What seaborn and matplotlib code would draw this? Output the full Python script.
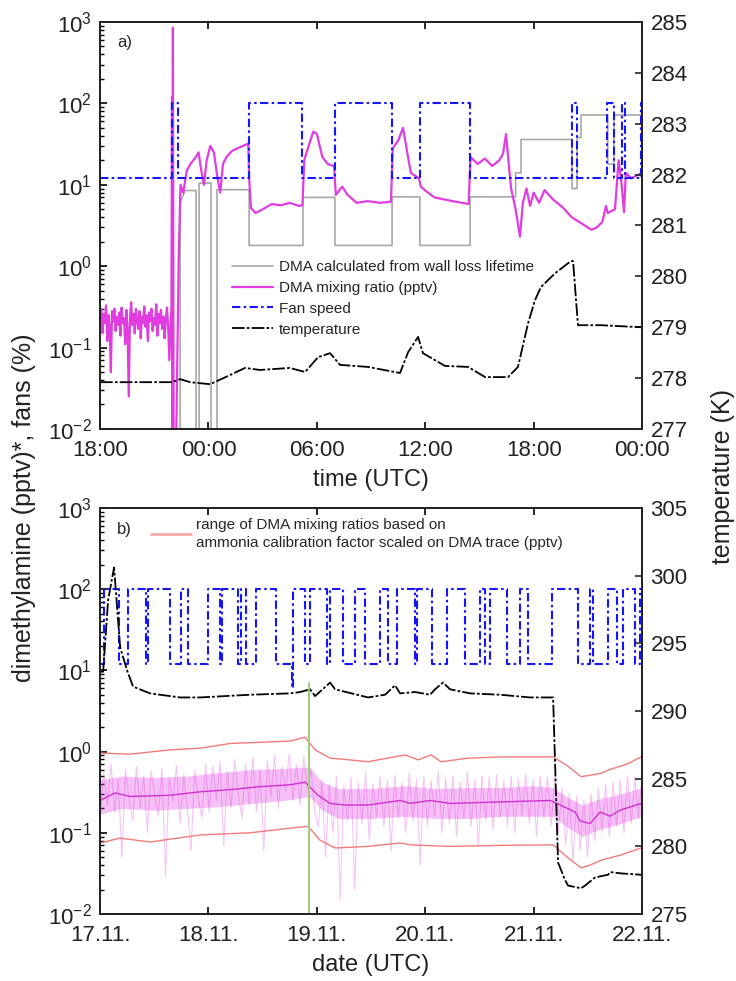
import numpy as np
import matplotlib
matplotlib.use('Agg')
import matplotlib.pyplot as plt
import seaborn as sns
from matplotlib.lines import Line2D
from matplotlib.ticker import LogLocator, NullFormatter, FuncFormatter

# ---------------- panel a (hours since 18:00) ----------------
a_ticks = [0, 6, 12, 18, 24, 30]
a_ticklabels = ['18:00', '00:00', '06:00', '12:00', '18:00', '00:00']

fan_a_t = [0, 4.0, 4.3, 8.25, 11.2, 13.0, 16.15, 17.7, 20.5, 26.1, 26.4, 28.05, 28.45, 28.9, 29.05, 29.95, 30]
fan_a_v = [12, 100, 12, 100, 12, 100, 12, 100, 12, 100, 12, 100, 12, 100, 12, 100, 100]

gray_t = [4.43, 4.43, 4.7, 5.31, 5.31, 5.48, 5.48, 6.14, 6.14, 6.47,
          6.47, 8.25, 8.25, 11.23, 11.23, 13.0, 13.0, 16.16, 16.16, 17.7,
          17.7, 20.48, 20.48, 23.0, 23.0, 23.3, 23.3, 26.12, 26.12, 26.4,
          26.4, 26.62, 26.62, 28.1, 28.1, 28.45, 28.45, 30]
gray_v = [0.001, 6, 8.5, 8.5, 0.001, 0.001, 10.5, 10.5, 0.001, 0.001,
          8.7, 8.7, 1.8, 1.8, 7.0, 7.0, 1.8, 1.8, 7.1, 7.1,
          1.8, 1.8, 7.1, 7.1, 14, 14, 36, 36, 9, 9,
          38, 38, 72, 72, 18, 18, 72, 72]

# noisy background before the injection (0 - 3.9 h)
mag_a_noise = [0.22, 0.30, 0.15, 0.26, 0.20, 0.33, 0.12, 0.25, 0.18, 0.05,
               0.28, 0.21, 0.30, 0.16, 0.24, 0.19, 0.27, 0.14, 0.31, 0.20,
               0.23, 0.11, 0.29, 0.17, 0.025, 0.22, 0.36, 0.19, 0.26, 0.15,
               0.30, 0.21, 0.17, 0.28, 0.13, 0.24, 0.20, 0.32, 0.18, 0.25,
               0.12, 0.27, 0.21, 0.30, 0.16, 0.23, 0.19, 0.34, 0.14, 0.26,
               0.20, 0.29, 0.17, 0.24, 0.13, 0.22, 0.31, 0.18, 0.07, 0.20]
mag_a_t = [3.95, 3.98, 4.0, 4.03, 4.07, 4.2, 4.35, 4.45, 4.6, 4.8,
           5.0, 5.3, 5.45, 5.6, 5.75, 5.9, 6.1, 6.3, 6.5, 6.65,
           6.8, 7.0, 7.3, 7.6, 7.9, 8.2, 8.25, 8.35, 8.6, 9.0,
           9.5, 10.0, 10.5, 11.0, 11.2, 11.3, 11.5, 11.8, 12.0, 12.3,
           12.6, 12.95, 13.05, 13.4, 13.7, 14.2, 14.8, 15.5, 16.1, 16.2,
           16.5, 16.77, 17.0, 17.2, 17.65, 17.75, 18.0, 18.5, 19.5, 20.4,
           20.5, 20.9, 21.3, 21.7, 22.1, 22.3, 22.47, 22.6, 22.75, 23.0,
           23.24, 23.4, 23.6, 23.8, 24.0, 24.3, 24.6, 25.1, 25.6, 26.1,
           26.6, 27.2, 27.5, 27.8, 28.0, 28.1, 28.5, 28.7, 28.85, 29.0,
           29.1, 29.4, 29.7, 30.0]
mag_a_v = [0.3, 120, 0.005, 850, 0.005, 0.005, 1.2, 10, 8, 15,
           18, 22, 25, 15, 10, 20, 30, 25, 12, 8,
           18, 22, 26, 28, 30, 32, 12, 5.2, 4.5, 5.0,
           5.8, 5.6, 6.0, 5.5, 5.6, 20, 28, 45, 42, 22,
           18, 17, 7.5, 9.5, 7.5, 6.0, 6.3, 6.0, 6.2, 28,
           35, 50, 25, 14, 12, 9.5, 8.5, 7.0, 6.3, 5.8,
           22, 18, 21, 17, 20, 24, 42, 20, 9, 5,
           2.3, 6, 9, 5.5, 8, 6, 8.6, 6.5, 5.3, 4.0,
           3.4, 2.8, 3.0, 3.5, 5.5, 4.5, 5.0, 20, 11, 4.6,
           14, 12, 13, 14]

temp_a_t = [0, 3.98, 4.43, 4.98, 6.09, 7.19, 8.02, 8.85, 10.5, 11.35,
            12.06, 12.73, 13.28, 14.83, 16.6, 17.05, 17.6, 17.87, 19.09, 20.37,
            21.31, 22.58, 23.13, 23.69, 24.07, 24.4, 25.18, 26.06, 26.18, 26.45,
            27.73, 29.94]
temp_a_v = [277.92, 277.92, 277.98, 277.92, 277.88, 278.06, 278.20, 278.16, 278.20, 278.12,
            278.41, 278.49, 278.26, 278.22, 278.10, 278.51, 278.81, 278.49, 278.24, 278.22,
            278.02, 278.02, 278.22, 279.08, 279.53, 279.79, 280.06, 280.30, 280.30, 279.04,
            279.04, 279.00]

# ---------------- panel b (days since 17.11.) ----------------
b_ticks = [0, 1, 2, 3, 4, 5]
b_ticklabels = ['17.11.', '18.11.', '19.11.', '20.11.', '21.11.', '22.11.']

fan_b_t = [0, 0.037, 0.175, 0.258, 0.424, 0.443, 0.646, 0.747, 0.812, 0.996,
           1.107, 1.125, 1.273, 1.301, 1.347, 1.439, 1.624, 1.772, 1.780, 1.891,
           1.937, 2.094, 2.122, 2.242, 2.352, 2.445, 2.583, 2.657, 2.740, 2.906,
           2.924, 3.063, 3.201, 3.367, 3.506, 3.552, 3.598, 3.755, 3.875, 3.948,
           4.170, 4.410, 4.520, 4.548, 4.686, 4.769, 4.825, 4.935, 4.982, 5.0]
fan_b_v = [12, 100, 12, 100, 12, 100, 12, 100, 12, 100,
           12, 100, 12, 100, 12, 100, 12, 6, 100, 12,
           100, 12, 100, 12, 100, 12, 100, 12, 100, 12,
           100, 12, 100, 12, 100, 12, 100, 12, 100, 12,
           100, 12, 100, 12, 100, 12, 100, 12, 100, 100]

ru_t = [0, 0.277, 0.646, 0.923, 1.199, 1.476, 1.753, 1.891, 1.983, 2.122,
        2.306, 2.472, 2.814, 2.934, 3.053, 3.146, 3.395, 3.699, 4.133, 4.179,
        4.317, 4.437, 4.622, 4.686, 4.871, 4.991]
ru_v = [0.96, 0.93, 1.05, 1.1, 1.26, 1.3, 1.35, 1.5, 1.05, 0.83,
        0.79, 0.75, 0.91, 0.79, 0.91, 0.75, 0.83, 0.86, 0.86, 0.86,
        0.66, 0.49, 0.54, 0.59, 0.71, 0.86]
rl_t = [0, 0.185, 0.461, 0.923, 1.384, 1.753, 1.919, 2.029, 2.168, 2.472,
        2.768, 2.860, 3.229, 3.690, 4.179, 4.317, 4.437, 4.520, 4.622, 4.797, 4.991]
rl_v = [0.075, 0.086, 0.077, 0.094, 0.10, 0.114, 0.12, 0.081, 0.065, 0.068,
        0.075, 0.071, 0.068, 0.070, 0.071, 0.049, 0.037, 0.040, 0.046, 0.053, 0.065]

# smoothed DMA trace
mc_t = [0, 0.138, 0.277, 0.646, 0.923, 1.199, 1.476, 1.753, 1.891, 2.011,
        2.122, 2.260, 2.472, 2.768, 2.860, 3.044, 3.229, 3.690, 4.151, 4.244,
        4.382, 4.428, 4.520, 4.613, 4.705, 4.797, 4.991]
mc_v = [0.25, 0.31, 0.28, 0.29, 0.32, 0.34, 0.37, 0.39, 0.42, 0.29,
        0.23, 0.22, 0.22, 0.25, 0.23, 0.25, 0.23, 0.24, 0.25, 0.22,
        0.18, 0.14, 0.13, 0.18, 0.16, 0.19, 0.23]

# raw DMA trace (read as 150 evenly spaced samples)
mraw_v = [0.15, 0.55, 0.22, 0.7, 0.18, 0.45, 0.05, 0.6, 0.25, 0.14,
          0.65, 0.2, 0.5, 0.1, 0.58, 0.3, 0.16, 0.62, 0.03, 0.48,
          0.24, 0.68, 0.13, 0.52, 0.2, 0.06, 0.6, 0.27, 0.15, 0.7,
          0.18, 0.66, 0.25, 0.75, 0.07, 0.58, 0.2, 0.8, 0.3, 0.15,
          0.7, 0.22, 0.85, 0.18, 0.6, 0.06, 0.78, 0.28, 0.9, 0.2,
          0.65, 0.32, 0.95, 0.25, 0.7, 0.22, 0.88, 0.35, 0.6, 0.18,
          0.12, 0.45, 0.05, 0.4, 0.1, 0.5, 0.015, 0.38, 0.14, 0.48,
          0.02, 0.42, 0.13, 0.55, 0.08, 0.4, 0.16, 0.5, 0.12, 0.45,
          0.06, 0.52, 0.15, 0.42, 0.1, 0.55, 0.14, 0.46, 0.04, 0.5,
          0.12, 0.44, 0.16, 0.58, 0.1, 0.47, 0.13, 0.5, 0.09, 0.43,
          0.15, 0.55, 0.12, 0.45, 0.07, 0.5, 0.14, 0.48, 0.11, 0.52,
          0.15, 0.44, 0.12, 0.5, 0.1, 0.46, 0.16, 0.53, 0.13, 0.45,
          0.09, 0.5, 0.15, 0.48, 0.12, 0.5, 0.1, 0.35, 0.07, 0.3,
          0.045, 0.28, 0.06, 0.25, 0.05, 0.3, 0.08, 0.35, 0.1, 0.4,
          0.09, 0.42, 0.12, 0.45, 0.1, 0.5, 0.13, 0.48, 0.15, 0.55]

haze_t = [0, 0.2, 0.5, 0.8, 1.1, 1.4, 1.7, 1.93, 2.05, 2.2, 2.5,
          2.8, 3.1, 3.4, 3.7, 4.0, 4.18, 4.3, 4.45, 4.6, 4.8, 5.0]
haze_in_hi = [0.45, 0.5, 0.48, 0.5, 0.55, 0.6, 0.62, 0.65, 0.42, 0.35, 0.35,
              0.38, 0.35, 0.36, 0.36, 0.38, 0.36, 0.28, 0.22, 0.26, 0.3, 0.36]
haze_in_lo = [0.17, 0.2, 0.19, 0.2, 0.21, 0.23, 0.25, 0.28, 0.19, 0.15, 0.15,
              0.16, 0.15, 0.15, 0.16, 0.16, 0.16, 0.12, 0.09, 0.11, 0.13, 0.16]

green_t = [1.93, 1.93]
green_v = [0.005, 7]

temp_b_t = [0, 0.028, 0.074, 0.129, 0.185, 0.249, 0.304, 0.461, 0.738, 0.923,
            1.384, 1.753, 1.845, 1.937, 1.983, 2.122, 2.168, 2.472, 2.629, 2.721,
            2.768, 2.906, 3.044, 3.090, 3.164, 3.229, 3.413, 3.690, 3.967, 4.179,
            4.225, 4.290, 4.317, 4.437, 4.474, 4.566, 4.686, 4.705, 4.806, 4.991]
temp_b_v = [292.9, 292.9, 298.2, 300.6, 294.7, 293.0, 291.8, 291.3, 291.0, 291.0,
            291.2, 291.3, 291.4, 291.6, 291.1, 292.1, 291.6, 291.0, 291.2, 291.9,
            291.3, 291.4, 291.2, 291.6, 292.1, 291.6, 291.3, 291.2, 291.0, 291.0,
            278.8, 277.5, 277.1, 276.9, 277.1, 277.7, 277.9, 278.1, 278.0, 277.9]

sns.set_theme(style='ticks')
plt.rcParams['font.family'] = ['Liberation Sans', 'DejaVu Sans']
plt.rcParams['mathtext.fontset'] = 'custom'
plt.rcParams['mathtext.rm'] = 'Liberation Sans'
plt.rcParams['mathtext.default'] = 'regular'

MAG = '#e03ce0'
BLUE = '#1414ff'
GRAY = '#a8a8a8'
RED = '#f27a7a'
TXT = '#222222'
dashdot = (0, (4, 1.6, 1.2, 1.6))
tdash = (0, (7, 1.2, 1.5, 1.2))

fig = plt.figure(figsize=(7.36, 9.81), dpi=100)
ax_a = fig.add_axes([0.136, 0.5627, 0.7364, 0.4149])
ax_b = fig.add_axes([0.136, 0.0683, 0.7364, 0.4139])


def style_left(ax):
    ax.set_yscale('log')
    ax.set_ylim(1e-2, 1e3)
    ax.yaxis.set_major_locator(LogLocator(base=10, numticks=10))
    ax.yaxis.set_minor_locator(LogLocator(base=10, subs=np.arange(2, 10), numticks=10))
    ax.yaxis.set_minor_formatter(NullFormatter())
    ax.yaxis.set_major_formatter(FuncFormatter(lambda v, p: r'$10^{%d}$' % round(np.log10(v))))
    ax.tick_params(axis='both', which='both', direction='in', top=True, right=False,
                   labelsize=16, colors='black', labelcolor=TXT)
    ax.tick_params(which='major', length=5, width=1.2)
    ax.tick_params(which='minor', length=3, width=1)
    ax.tick_params(axis='x', pad=8)
    ax.tick_params(axis='y', pad=6)
    ax.set_ylabel('')
    for s in ax.spines.values():
        s.set_linewidth(1.3)
        s.set_color('black')


def style_right(ax):
    ax.set_ylabel('')
    ax.tick_params(axis='y', direction='in', length=5, width=1.2, labelsize=16,
                   labelcolor=TXT, pad=6)


# ---- panel a ----
sns.lineplot(x=gray_t, y=gray_v, ax=ax_a, sort=False, estimator=None, color=GRAY, lw=1.2)
h_gray = ax_a.lines[-1]
sns.lineplot(x=list(np.linspace(0, 3.9, len(mag_a_noise))) + mag_a_t, y=mag_a_noise + mag_a_v,
             ax=ax_a, sort=False, estimator=None, color=MAG, lw=1.6)
h_mag = ax_a.lines[-1]
sns.lineplot(x=fan_a_t, y=fan_a_v, ax=ax_a, sort=False, estimator=None, color=BLUE, lw=1.5,
             drawstyle='steps-post', linestyle=dashdot)
h_fan = ax_a.lines[-1]
style_left(ax_a)
ax_a.set_xlim(0, 30)
ax_a.set_xticks(a_ticks)
ax_a.set_xticklabels(a_ticklabels)
ax_a.set_xlabel('time (UTC)', fontsize=17, labelpad=6, color=TXT)

ax_a2 = ax_a.twinx()
sns.lineplot(x=temp_a_t, y=temp_a_v, ax=ax_a2, sort=False, estimator=None, color='black', lw=1.3,
             linestyle=tdash)
h_temp = ax_a2.lines[-1]
ax_a2.set_ylim(277, 285)
ax_a2.set_yticks(range(277, 286))
style_right(ax_a2)
ax_a2.legend([h_gray, h_mag, h_fan, h_temp],
             ['DMA calculated from wall loss lifetime', 'DMA mixing ratio (pptv)', 'Fan speed', 'temperature'],
             loc='upper left', bbox_to_anchor=(0.232, 0.43), frameon=False, fontsize=11,
             handlelength=2.7, handletextpad=0.35, labelspacing=0.45, borderaxespad=0)
ax_a.text(0.045, 0.95, 'a)', transform=ax_a.transAxes, fontsize=12, ha='center', va='center')

# ---- panel b ----
sns.lineplot(x=np.linspace(0, 5, len(mraw_v)), y=mraw_v, ax=ax_b, sort=False, estimator=None,
             color=MAG, lw=0.8, alpha=0.3)
ax_b.fill_between(haze_t, haze_in_lo, haze_in_hi, color=MAG, alpha=0.32, lw=0)
sns.lineplot(x=mc_t, y=mc_v, ax=ax_b, sort=False, estimator=None, color='#d030d0', lw=1)
sns.lineplot(x=ru_t, y=ru_v, ax=ax_b, sort=False, estimator=None, color=RED, lw=1)
sns.lineplot(x=rl_t, y=rl_v, ax=ax_b, sort=False, estimator=None, color=RED, lw=1)
sns.lineplot(x=fan_b_t, y=fan_b_v, ax=ax_b, sort=False, estimator=None, color=BLUE, lw=1.5,
             drawstyle='steps-post', linestyle=dashdot)
sns.lineplot(x=green_t, y=green_v, ax=ax_b, sort=False, estimator=None, color='#a3cc7e', lw=1.5)
style_left(ax_b)
ax_b.set_xlim(0, 5)
ax_b.set_xticks(b_ticks)
ax_b.set_xticklabels(b_ticklabels)
ax_b.set_xlabel('date (UTC)', fontsize=17, labelpad=6, color=TXT)
ax_b.text(0.045, 0.946, 'b)', transform=ax_b.transAxes, fontsize=12, ha='center', va='center')
leg_b = ax_b.legend([Line2D([], [], color='#f7aaaa', lw=2)],
                    ['range of DMA mixing ratios based on\nammonia calibration factor scaled on DMA trace (pptv)'],
                    loc='upper left', bbox_to_anchor=(0.083, 0.99), frameon=False, fontsize=11,
                    handlelength=2.6, handletextpad=0.35, borderaxespad=0)
for t in leg_b.get_texts():
    t.set_linespacing(1.35)

ax_b2 = ax_b.twinx()
sns.lineplot(x=temp_b_t, y=temp_b_v, ax=ax_b2, sort=False, estimator=None, color='black', lw=1.3,
             linestyle=tdash)
ax_b2.set_ylim(275, 305)
ax_b2.set_yticks(range(275, 306, 5))
style_right(ax_b2)

fig.text(0.033, 1 - 508 / 981, 'dimethylamine (pptv)*, fans (%)', rotation=90,
         ha='center', va='center', fontsize=18, color=TXT)
fig.text(0.982, 1 - 477 / 981, 'temperature (K)', rotation=90,
         ha='center', va='center', fontsize=18, color=TXT)

fig.savefig('out.png', dpi=100)
